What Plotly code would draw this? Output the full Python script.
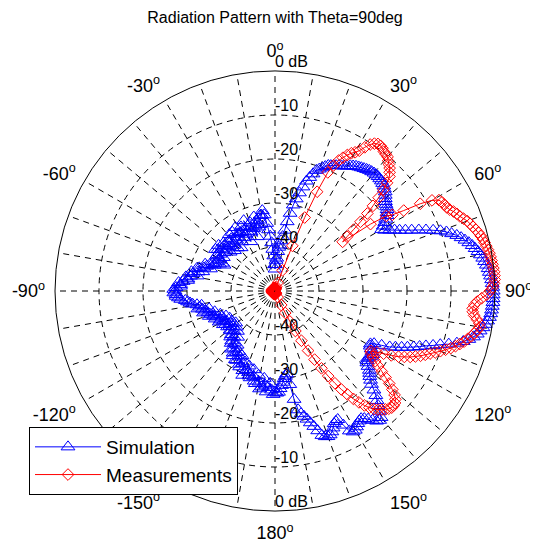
import plotly.graph_objects as go

TITLE = "Radiation Pattern with Theta=90deg"

# ---- Simulation (blue): angle in degrees, clockwise from top; gain in dB ----
SIM_THETA = list(range(0, 360))
SIM_DB = [
    -45, -44, -43, -42.5, -41, -40, -39.5, -38.5, -37.5, -36,          # 0-9
    -34, -32, -30, -28.5, -27, -25.5, -24, -23, -22, -21,              # 10-19
    -20.5, -20, -19.5, -19, -18.8, -18.5, -18.3, -18, -17.8, -17.5,    # 20-29
    -17.2, -16.8, -16.5, -16.2, -16, -15.8, -15.6, -15.4, -15.2, -15.1,  # 30-39
    -15, -15, -15, -15.1, -15.2, -15.4, -15.6, -16, -16.3, -16.8,      # 40-49
    -17.3, -17.7, -18, -18.2, -18.5, -18.9, -19.3, -20, -20.6, -21.3,  # 50-59
    -22, -21.5, -20.5, -19.5, -18.5, -17.3, -16, -14.5, -13, -11.5,    # 60-69
    -10, -8.8, -7.8, -6.8, -6, -5.3, -4.6, -4, -3.5, -3,               # 70-79
    -2.6, -2.2, -1.9, -1.6, -1.3, -1.1, -0.9, -0.7, -0.6, -0.5,        # 80-89
    -0.4, -0.4, -0.4, -0.4, -0.5, -0.6, -0.7, -0.9, -1.2, -1.6,        # 90-99
    -2, -2.5, -3, -3.7, -4.6, -5.7, -7, -8.7, -10.5, -12,              # 100-109
    -13.5, -14.8, -16, -17.3, -18.5, -19.8, -21, -22.8, -24.5, -25.2,  # 110-119
    -25, -24.5, -24, -23.5, -23.5, -23.8, -24, -23.8, -23.5, -22.8,    # 120-129
    -22, -21.5, -21, -20.3, -19.5, -18.2, -17, -16, -15, -13.8,        # 130-139
    -12.5, -12.2, -12.5, -13.2, -14, -14.6, -15, -14.8, -14.5, -14,    # 140-149
    -13.5, -13.4, -14, -15.8, -17.5, -17.3, -17, -16.2, -15.5, -15,    # 150-159
    -14.8, -15, -15.5, -16.8, -18, -19, -20, -20.8, -21.5, -22.5,      # 160-169
    -25, -28.5, -31, -30.5, -30, -29.2, -28.5, -27.8, -27, -26.8,      # 170-179
    -27, -26.5, -27.5, -29, -28, -27, -28.5, -30, -28, -27.5,          # 180-189
    -29, -30.5, -28.5, -29, -30, -31.5, -29.5, -30, -30.5, -32,        # 190-199
    -31, -29.5, -30.5, -32.5, -32, -31, -31.5, -33.5, -33, -32,        # 200-209
    -32, -34, -33.5, -32.5, -33, -35, -34, -33.5, -35, -36.5,          # 210-219
    -34.5, -35, -36, -37.5, -35.5, -36, -37, -38, -36.5, -36.5,        # 220-229
    -37.5, -38.5, -37, -36.5, -37.5, -38, -36.5, -36, -37, -38,        # 230-239
    -36.5, -35.5, -36, -37.5, -36.5, -35, -35.5, -36.5, -35, -34,      # 240-249
    -34.5, -35.5, -34, -33, -33.5, -34.5, -33, -32, -32.5, -33,        # 250-259
    -32, -31, -30.5, -30, -29.5, -28.5, -28, -27.5, -27.5, -27,        # 260-269
    -27.3, -27, -27.5, -28.5, -28.5, -28, -29, -30, -30, -29.5,        # 270-279
    -30.5, -32, -31, -30.5, -32, -33, -31.5, -32, -33, -34.5,          # 280-289
    -33.5, -33, -34, -35, -34.5, -35, -36, -37, -36.5, -35.5,          # 290-299
    -35.5, -34.5, -34.5, -36, -35, -33.5, -34, -35.5, -34.5, -33.5,    # 300-309
    -35.5, -36.5, -34.5, -34, -35.5, -37, -35, -34.5, -36, -37,        # 310-319
    -34.5, -33.5, -37.5, -35.5, -33.5, -35, -36.5, -34.5, -33, -34.5,  # 320-329
    -36, -34.5, -33.5, -35.5, -37.5, -35, -32.5, -34, -35.5, -34.5,    # 330-339
    -33.5, -35, -37, -34.5, -32.5, -33.5, -35, -34.5, -33.5, -32.5,    # 340-349
    -32.5, -31.5, -32.5, -34.5, -36, -37.5, -39, -40.5, -42, -44,      # 350-359
]

# ---- Measurements (red) ----
MEAS_THETA = [
    0, 3, 6, 9, 12, 15, 18,
    19, 20, 21, 22, 23, 24, 25, 26, 27, 28, 29, 30, 31, 32, 33, 34, 35, 36, 37, 38, 39,
    40, 41, 42, 43, 44, 45, 46, 47, 48, 49, 50, 51, 52, 53, 54, 55, 56, 57, 58, 59,
    60, 61, 62, 63, 64, 65, 66, 67, 68, 69, 70, 71, 72, 73, 74, 75, 76, 77, 78, 79,
    80, 81, 82, 83, 84, 85, 86, 87, 88, 89, 90, 91, 92, 93, 94, 95, 96, 97, 98, 99,
    100, 101, 102, 103, 104, 105, 106, 107, 108, 109, 110, 111, 112, 113, 114, 115, 116, 117, 118, 119,
    120, 121, 122, 123, 124, 125, 126, 127, 128, 129, 130, 131, 132, 133, 134, 135, 136, 137, 138, 139,
    140, 141, 142, 143, 144, 145, 146, 147, 148, 149, 150, 151, 152, 153, 154, 155, 156, 157,
    160, 163, 166, 169, 172, 175, 178, 181, 184, 187, 190, 193, 196, 199,
    202, 205, 208, 211, 214, 217, 220, 223, 226, 229, 232, 235, 238, 241, 244, 247,
    250, 253, 256, 259, 262, 265, 268, 271, 274, 277, 280, 283, 286, 289, 292, 295, 298,
    301, 304, 307, 310, 313, 316, 319, 322, 325, 328, 331, 334, 337, 340, 343, 346, 349,
    352, 355, 358,
]
MEAS_DB = [
    -49.5, -49.3, -49.7, -49.4, -49.6, -49.3, -49,
    -48, -45, -39, -32, -25.5, -20.5, -18.5, -17, -16, -15, -14.2, -13.6, -12.8, -11.5, -10.3, -9.6, -9.2, -9.2, -9.4, -9.8, -10,
    -10.2, -10.8, -11.3, -11.8, -12.5, -13.2, -14.6, -16.3, -18.3, -20.5, -22.6, -25, -27.4, -29.5, -31, -23.5, -19.5, -18.2, -15.5, -11.5,
    -8.8, -7.4, -7, -6.8, -6.6, -6.2, -5.6, -5.1, -4.7, -4.1, -3.5, -3.1, -2.7, -2.3, -1.9, -1.6, -1.3, -1.1, -0.9, -0.7,
    -0.5, -0.4, -0.3, -0.2, -0.1, 0, 0, 0, -0.2, -0.5, -1.1, -1.9, -3, -4, -4.6, -4.9, -4.8, -4.4, -3.7, -3,
    -2.8, -3.2, -3.7, -4.2, -4.9, -5.5, -6.3, -7.1, -8, -9, -10, -11, -12, -12.9, -13.8, -14.8, -15.8, -17, -18.2, -19.8,
    -21.5, -23, -24.3, -24, -23.2, -22.2, -21, -19.6, -18.1, -16.6, -15.2, -14, -13.2, -12.7, -12.5, -12.5, -12.8, -13.2, -13.7, -14.3,
    -15, -15.9, -17, -18.3, -19.7, -21.3, -23, -25, -27.2, -29.5, -32, -34.5, -37.2, -39.8, -42.3, -44.5, -46.5, -48.5,
    -49.5, -49.3, -49.7, -49.4, -49.6, -49.3, -49.7, -49.5, -49.3, -49.6, -49.4, -49.7, -49.3, -49.5,
    -49.6, -49.4, -49.3, -49.7, -49.5, -49.3, -49.6, -49.4, -49.7, -49.3, -49.5, -49.6, -49.4, -49.3, -49.7, -49.5,
    -49.3, -49.6, -49.4, -49.7, -49.3, -49.5, -49.6, -49.4, -49.3, -49.7, -49.5, -49.3, -49.6, -49.4, -49.7, -49.3, -49.5,
    -49.6, -49.4, -49.3, -49.7, -49.5, -49.3, -49.6, -49.4, -49.7, -49.3, -49.5, -49.6, -49.4, -49.3, -49.7, -49.5, -49.3,
    -49.6, -49.4, -49.5,
]

# ---- axis labels / grid ----
LABEL_THETA = [0, 30, 60, 90, 120, 150, 180, 210, 240, 270, 300, 330]
LABEL_TEXT = ["0", "30", "60", "90", "120", "150", "180", "-150", "-120", "-90", "-60", "-30"]
MINOR_SPOKES = [a for a in range(0, 360, 10) if a % 30 != 0]
RING_DB = [0, -10, -20, -30, -40]
RING_TEXT = ["0 dB", "-10", "-20", "-30", "-40"]
R_MIN, R_MAX = -50, 0

FONT = "Liberation Sans, Arial, Helvetica, sans-serif"
DASH = "6px,5px"
OFF = 8          # default page margin around the plot div
W, H = 530, 539


def px(x):
    return (x - OFF) / W


def py(y):
    return 1 - (y - OFF) / H


fig = go.Figure()

# extra dashed spokes every 10 degrees (between the labelled 30-degree grid lines)
sp_r, sp_t = [], []
for a in MINOR_SPOKES:
    sp_r += [R_MIN, R_MAX, None]
    sp_t += [a, a, None]
fig.add_trace(go.Scatterpolar(
    r=sp_r, theta=sp_t, mode="lines", showlegend=False, hoverinfo="skip",
    connectgaps=False, line=dict(color="black", width=1, dash=DASH),
))

fig.add_trace(go.Scatterpolar(
    r=SIM_DB, theta=SIM_THETA, mode="lines+markers", name="Simulation",
    line=dict(color="#0000ff", width=1),
    marker=dict(symbol="triangle-up-open", size=12, color="#0000ff", line=dict(width=1)),
))
fig.add_trace(go.Scatterpolar(
    r=MEAS_DB, theta=MEAS_THETA, mode="lines+markers", name="Measurements",
    line=dict(color="#ff0000", width=1),
    marker=dict(symbol="diamond-open", size=9, color="#ff0000", line=dict(width=1)),
))
# radial labels along the 0 and 180 spokes
for th in (0, 180):
    fig.add_trace(go.Scatterpolar(
        r=RING_DB, theta=[th] * len(RING_DB), mode="text", text=RING_TEXT,
        textposition="top right", showlegend=False, hoverinfo="skip", cliponaxis=False,
        textfont=dict(family=FONT, size=16, color="black"),
    ))

fig.update_layout(
    width=W, height=H,
    margin=dict(l=0, r=0, t=0, b=0),
    paper_bgcolor="white",
    font=dict(family=FONT, color="black"),
    title=dict(text=TITLE, x=px(275), xanchor="center", y=py(17), yanchor="middle",
               font=dict(family=FONT, size=16, color="black")),
    polar=dict(
        domain=dict(x=[px(55), px(495)], y=[py(511), py(71)]),
        bgcolor="white",
        radialaxis=dict(range=[R_MIN, R_MAX], tickmode="array", tickvals=[-40, -30, -20, -10],
                        showticklabels=False, ticks="", showline=False,
                        gridcolor="black", griddash=DASH, gridwidth=1),
        angularaxis=dict(rotation=90, direction="clockwise", tickmode="array",
                         tickvals=LABEL_THETA,
                         ticktext=[t + "<sup>o</sup>" for t in LABEL_TEXT],
                         ticks="outside", ticklen=6, tickcolor="rgba(0,0,0,0)",
                         showline=True, linecolor="black", linewidth=1,
                         gridcolor="black", griddash=DASH, gridwidth=1,
                         tickfont=dict(family=FONT, size=18, color="black")),
    ),
    legend=dict(x=px(29), y=py(427), xanchor="left", yanchor="top",
                bgcolor="white", bordercolor="black", borderwidth=1,
                font=dict(family=FONT, size=19, color="black"), itemwidth=66),
    showlegend=True,
)

fig.write_html("out.html")
